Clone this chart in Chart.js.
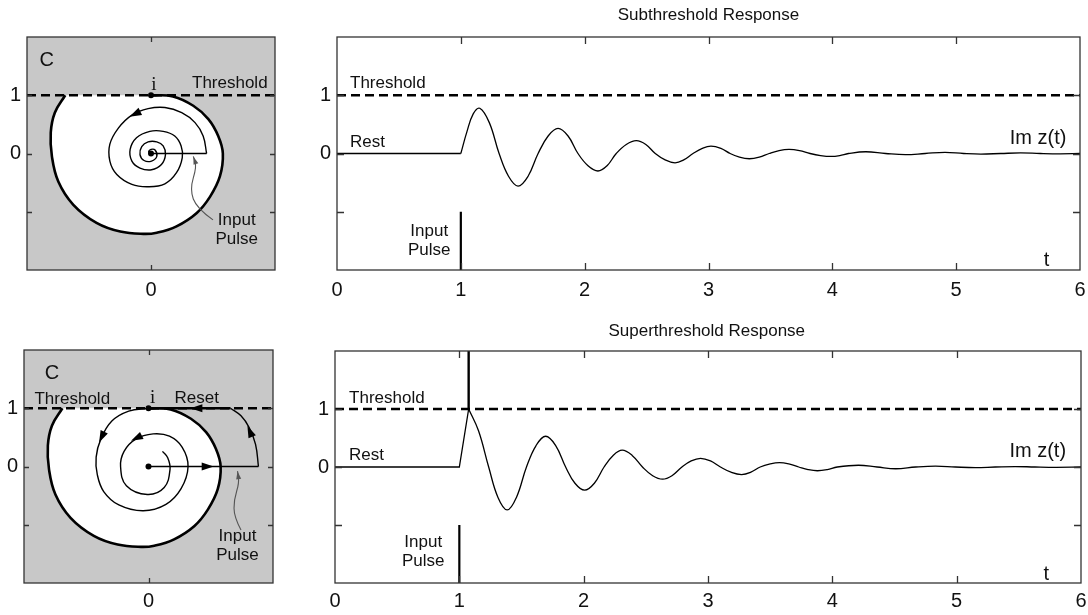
<!DOCTYPE html>
<html>
<head>
<meta charset="utf-8">
<script src="https://cdn.jsdelivr.net/npm/chart.js@4.4.0/dist/chart.umd.min.js"></script>
<style>
  html, body { margin: 0; padding: 0; background: #fff; overflow: hidden; }
  canvas { position: absolute; }
</style>
</head>
<body>
<canvas id="phaseSub" width="290" height="300" style="left:0;top:0;width:290px;height:300px"></canvas>
<canvas id="respSub" width="798" height="300" style="left:290px;top:0;width:798px;height:300px"></canvas>
<canvas id="phaseSup" width="290" height="315" style="left:0;top:300px;width:290px;height:315px"></canvas>
<canvas id="respSup" width="798" height="315" style="left:290px;top:300px;width:798px;height:315px"></canvas>
<script>
Chart.defaults.font.family = '"Liberation Sans", Arial, Helvetica, sans-serif';
Chart.defaults.color = '#111';

// ---- values ----
const phaseRange = [-2.14, 2.14];
const levelRange = [-2, 2];
const timeRange = [0, 6];
const phaseTicks = [0];
const phaseTickLabels = ['0'];
const levelTicks = [-1, 0, 1];
const levelTickLabels = ['', '0', '1'];
const timeTicks = [0, 1, 2, 3, 4, 5, 6];
const timeTickLabels = ['0', '1', '2', '3', '4', '5', '6'];
const threshold = 1;
const pulseTime = 1;
const pulseTop = -1;
const spikeTime = 1.075;

// heavy boundary curve (both phase panels)
const sepX = [0, 0.38, 0.73, 0.99, 1.16, 1.24, 1.19, 1.02, 0.79, 0.44, 0.10, -0.13, -0.53, -0.94, -1.34, -1.60, -1.71, -1.73, -1.66, -1.48];
const sepY = [1, 0.98, 0.82, 0.59, 0.30, 0, -0.39, -0.74, -1.02, -1.25, -1.36, -1.38, -1.34, -1.19, -0.88, -0.48, -0.05, 0.36, 0.70, 1];

// subthreshold trajectory
const subKickX = [0, 0.96];
const subSpiralX = [0.96, 0.90, 0.76, 0.53, 0.24, -0.05, -0.33, -0.56, -0.71, -0.71, -0.59, -0.33, -0.05, 0.24, 0.44, 0.54, 0.52, 0.41, 0.21, -0.02, -0.25, -0.36, -0.33, -0.19, 0.01, 0.18, 0.25, 0.21, 0.10, -0.05, -0.16, -0.19, -0.12, 0.01, 0.10, 0.07, 0, -0.04, 0];
const subSpiralY = [0, 0.30, 0.53, 0.70, 0.79, 0.77, 0.66, 0.44, 0.16, -0.13, -0.36, -0.53, -0.57, -0.52, -0.33, -0.07, 0.13, 0.30, 0.38, 0.38, 0.27, 0.07, -0.13, -0.25, -0.28, -0.19, -0.02, 0.13, 0.20, 0.20, 0.12, -0.02, -0.12, -0.13, -0.05, 0.06, 0.07, 0.03, 0];

// superthreshold trajectory
const supKickX = [0, 1.89];
const resetArcX = [1.89, 1.84, 1.73, 1.59, 1.41];
const resetArcY = [0, 0.38, 0.67, 0.87, 1];
const resetX = [1.41, 0];
const supSpiralX = [0, -0.34, -0.63, -0.82, -0.90, -0.88, -0.77, -0.51, -0.09, 0.30, 0.56, 0.68, 0.58, 0.36, 0.08, -0.22, -0.42, -0.48, -0.38, -0.02, 0.27, 0.37, 0.33, 0.24];
const supSpiralY = [1, 0.95, 0.78, 0.47, 0.16, -0.14, -0.43, -0.66, -0.76, -0.65, -0.38, 0, 0.33, 0.52, 0.56, 0.47, 0.26, 0, -0.33, -0.48, -0.36, -0.05, 0.15, 0.26];

// Im z(t) after the pulse
const subT = [1.0, 1.05, 1.10, 1.153, 1.23, 1.309, 1.385, 1.462, 1.543, 1.624, 1.705, 1.785, 1.866, 1.946, 2.027, 2.107, 2.181, 2.255, 2.336, 2.417, 2.494, 2.57, 2.65, 2.73, 2.80, 2.875, 2.95, 3.02, 3.10, 3.175, 3.25, 3.33, 3.41, 3.49, 3.57, 3.65, 3.735, 3.82, 3.905, 3.99, 4.06, 4.13, 4.27, 4.43, 4.59, 4.75, 4.91, 5.06, 5.2, 5.36, 5.52, 5.68, 5.84, 6.0];
const subY = [0, 0.38, 0.68, 0.776, 0.53, 0, -0.39, -0.56, -0.39, 0, 0.30, 0.43, 0.30, 0, -0.21, -0.30, -0.21, 0, 0.155, 0.22, 0.155, 0, -0.11, -0.16, -0.11, 0, 0.088, 0.126, 0.088, 0, -0.063, -0.09, -0.063, 0, 0.05, 0.07, 0.05, 0, -0.035, -0.05, -0.035, 0, 0.03, 0, -0.02, 0, 0.02, 0, -0.01, 0, 0.01, 0, -0.005, 0];
const supT = [1.075, 1.155, 1.236, 1.31, 1.385, 1.46, 1.54, 1.617, 1.694, 1.775, 1.855, 1.93, 2.008, 2.086, 2.164, 2.237, 2.31, 2.39, 2.473, 2.555, 2.635, 2.71, 2.79, 2.865, 2.94, 3.02, 3.1, 3.185, 3.27, 3.345, 3.42, 3.5, 3.575, 3.65, 3.73, 3.805, 3.88, 3.96, 4.04, 4.21, 4.36, 4.51, 4.67, 4.83, 4.99, 5.15, 5.31, 5.47, 5.63, 5.8, 6.0];
const supY = [1.0, 0.62, 0, -0.52, -0.74, -0.52, 0, 0.37, 0.53, 0.37, 0, -0.28, -0.40, -0.28, 0, 0.20, 0.29, 0.20, 0, -0.15, -0.21, -0.15, 0, 0.105, 0.15, 0.105, 0, -0.09, -0.13, -0.09, 0, 0.053, 0.075, 0.053, 0, -0.045, -0.065, -0.045, 0, 0.03, 0, -0.03, 0, 0.015, 0, -0.01, 0, 0.008, 0, -0.005, 0];

// ---- helpers ----
const pts = (xs, ys) => xs.map((x, i) => ({ x, y: ys[i] }));
const flat = (xs, y) => xs.map(x => ({ x, y }));
const line = (data, o) => Object.assign({ data, showLine: true, pointRadius: 0, borderColor: '#000', borderWidth: 1.3, tension: 0, fill: false }, o);
const dashed = (xr) => line(flat(xr, threshold), { borderWidth: 2.6, borderDash: [9, 5] });

function head(ctx, from, to, len, wid, color) {
  const a = Math.atan2(to[1] - from[1], to[0] - from[0]);
  ctx.save();
  ctx.translate(to[0], to[1]);
  ctx.rotate(a);
  ctx.beginPath();
  ctx.moveTo(0, 0);
  ctx.lineTo(-len, wid / 2);
  ctx.lineTo(-len, -wid / 2);
  ctx.closePath();
  ctx.fillStyle = color;
  ctx.fill();
  ctx.restore();
}

const figureMarks = {
  id: 'figureMarks',
  beforeDraw(chart, args, o) {
    if (!o.panel) return;
    const { ctx, chartArea: a } = chart;
    ctx.save();
    ctx.fillStyle = o.panel;
    ctx.fillRect(a.left, a.top, a.width, a.height);
    ctx.restore();
  },
  afterDatasetsDraw(chart, args, o) {
    const { ctx, chartArea: a } = chart, sx = chart.scales.x, sy = chart.scales.y;
    const P = p => [sx.getPixelForValue(p[0]), sy.getPixelForValue(p[1])];
    ctx.save();
    (o.squiggles || []).forEach(s => {
      const q = s.map(P);
      ctx.strokeStyle = '#555';
      ctx.lineWidth = 1.1;
      ctx.beginPath();
      ctx.moveTo(q[0][0], q[0][1]);
      for (let i = 1; i < q.length - 1; i++) {
        ctx.quadraticCurveTo(q[i][0], q[i][1], (q[i][0] + q[i + 1][0]) / 2, (q[i][1] + q[i + 1][1]) / 2);
      }
      ctx.lineTo(q[q.length - 1][0], q[q.length - 1][1]);
      ctx.stroke();
      head(ctx, q[q.length - 2], q[q.length - 1], 8, 5, '#555');
    });
    (o.arrows || []).forEach(ar => head(ctx, P(ar[0]), P(ar[1]), 12, 8, '#000'));
    (o.dots || []).forEach(p => {
      const [x, y] = P(p);
      ctx.beginPath();
      ctx.arc(x, y, 3, 0, 2 * Math.PI);
      ctx.fillStyle = '#000';
      ctx.fill();
    });
    ctx.fillStyle = '#111';
    ctx.textBaseline = 'middle';
    (o.texts || []).forEach(t => {
      const [x, y] = P(t.at);
      ctx.font = t.font || '17px "Liberation Sans", Arial, sans-serif';
      ctx.textAlign = t.align || 'center';
      ctx.fillText(t.text, x, y);
    });
    if (o.title) {
      ctx.font = '17px "Liberation Sans", Arial, sans-serif';
      ctx.textAlign = 'center';
      ctx.fillText(o.title.text, sx.getPixelForValue(o.title.x), a.top - o.title.above);
    }
    ctx.restore();
  },
  afterDraw(chart, args, o) {
    const { ctx, chartArea: a } = chart, sx = chart.scales.x, sy = chart.scales.y;
    const L = o.tickLen || 6;
    ctx.save();
    ctx.strokeStyle = '#333';
    ctx.lineWidth = 1.3;
    ctx.strokeRect(a.left, a.top, a.width, a.height);
    ctx.beginPath();
    sx.ticks.forEach(t => {
      const x = Math.round(sx.getPixelForValue(t.value)) + 0.5;
      if (x <= a.left + 2 || x >= a.right - 2) return;
      ctx.moveTo(x, a.top); ctx.lineTo(x, a.top + L);
      ctx.moveTo(x, a.bottom); ctx.lineTo(x, a.bottom - L);
    });
    sy.ticks.forEach(t => {
      const y = Math.round(sy.getPixelForValue(t.value)) + 0.5;
      if (y <= a.top + 2 || y >= a.bottom - 2) return;
      ctx.moveTo(a.left, y); ctx.lineTo(a.left + L, y);
      ctx.moveTo(a.right, y); ctx.lineTo(a.right - L, y);
    });
    ctx.stroke();
    ctx.restore();
  }
};

function axes(xr, yr, xt, xl, yt, yl, yWidth, xHeight, xPad) {
  return {
    x: {
      type: 'linear', min: xr[0], max: xr[1],
      afterBuildTicks: s => { s.ticks = xt.map(v => ({ value: v })); },
      afterFit: s => { s.height = xHeight; s.paddingLeft = 0; s.paddingRight = 0; },
      grid: { display: false, drawTicks: false }, border: { display: false },
      ticks: { font: { size: 20 }, color: '#111', padding: xPad, maxRotation: 0, autoSkip: false,
        callback: v => xl[xt.indexOf(v)] }
    },
    y: {
      type: 'linear', min: yr[0], max: yr[1],
      afterBuildTicks: s => { s.ticks = yt.map(v => ({ value: v })); },
      afterFit: s => { s.width = yWidth; s.paddingTop = 0; s.paddingBottom = 0; },
      grid: { display: false, drawTicks: false }, border: { display: false },
      ticks: { font: { size: 20 }, color: '#111', padding: 6, autoSkip: false,
        callback: v => yl[yt.indexOf(v)] }
    }
  };
}

function makeChart(id, datasets, scales, padding, marks) {
  return new Chart(document.getElementById(id), {
    type: 'scatter',
    data: { datasets },
    options: {
      responsive: false, animation: false, devicePixelRatio: 1, events: [],
      layout: { padding },
      scales,
      plugins: { legend: { display: false }, tooltip: { enabled: false }, figureMarks: marks }
    },
    plugins: [figureMarks]
  });
}

const SERIF = '19px "Liberation Serif", "DejaVu Serif", serif';
const BIG = '20px "Liberation Sans", Arial, sans-serif';

// top left: phase plane, subthreshold
makeChart('phaseSub', [
  dashed(phaseRange),
  line(flat(subKickX, 0), { borderWidth: 1.4 }),
  line(pts(subSpiralX, subSpiralY), { borderWidth: 1.4, tension: 0.4 }),
  line(pts(sepX, sepY), { borderWidth: 2.6, tension: 0.4, fill: 'shape', backgroundColor: '#ffffff' })
], axes(phaseRange, levelRange, phaseTicks, phaseTickLabels, levelTicks, levelTickLabels, 27, 30, 8),
{ top: 37, right: 15, left: 0, bottom: 0 },
{
  panel: '#c8c8c8', tickLen: 5,
  dots: [[0, 0], [0, threshold]],
  arrows: [[[-0.15, 0.74], [-0.37, 0.63]]],
  squiggles: [[[1.07, -1.14], [0.79, -0.94], [0.67, -0.62], [0.79, -0.22], [0.73, -0.05]]],
  texts: [
    { text: 'C', at: [-1.8, 1.6], font: BIG },
    { text: 'i', at: [0.05, 1.17], font: SERIF },
    { text: 'Threshold', at: [1.36, 1.2] },
    { text: 'Input', at: [1.48, -1.14] },
    { text: 'Pulse', at: [1.48, -1.47] }
  ]
});

// top right: subthreshold response
makeChart('respSub', [
  dashed(timeRange),
  line([{ x: 0, y: 0 }, { x: subT[0], y: subY[0] }]),
  line(pts(subT, subY), { tension: 0.4 }),
  line(pts([pulseTime, pulseTime], [levelRange[0], pulseTop]), { borderWidth: 2.2 })
], axes(timeRange, levelRange, timeTicks, timeTickLabels, levelTicks, levelTickLabels, 47, 30, 8),
{ top: 37, right: 8, left: 0, bottom: 0 },
{
  tickLen: 7,
  title: { text: 'Subthreshold Response', x: 3.0, above: 22 },
  texts: [
    { text: 'Threshold', at: [0.105, 1.2], align: 'left' },
    { text: 'Rest', at: [0.105, 0.2], align: 'left' },
    { text: 'Input', at: [0.745, -1.34] },
    { text: 'Pulse', at: [0.745, -1.66] },
    { text: 'Im z(t)', at: [5.89, 0.26], align: 'right', font: BIG },
    { text: 't', at: [5.73, -1.83], font: BIG }
  ]
});

// bottom left: phase plane, superthreshold
makeChart('phaseSup', [
  dashed(phaseRange),
  line(flat(resetX, threshold), { borderWidth: 2.4 }),
  line(flat(supKickX, 0), { borderWidth: 1.4 }),
  line(pts(resetArcX, resetArcY), { borderWidth: 1.4, tension: 0.4 }),
  line(pts(supSpiralX, supSpiralY), { borderWidth: 1.4, tension: 0.4 }),
  line(pts(sepX, sepY), { borderWidth: 2.6, tension: 0.4, fill: 'shape', backgroundColor: '#ffffff' })
], axes(phaseRange, levelRange, phaseTicks, phaseTickLabels, levelTicks, levelTickLabels, 24, 32, 6),
{ top: 50, right: 17, left: 0, bottom: 0 },
{
  panel: '#c8c8c8', tickLen: 5,
  dots: [[0, 0], [0, threshold]],
  arrows: [
    [[0.9, 0], [1.12, 0]],
    [[1.8, 0.47], [1.7, 0.7]],
    [[0.95, 1], [0.72, 1]],
    [[-0.74, 0.64], [-0.85, 0.41]],
    [[-0.08, 0.55], [-0.3, 0.44]]
  ],
  squiggles: [[[1.59, -1.09], [1.47, -0.86], [1.47, -0.57], [1.56, -0.28], [1.53, -0.08]]],
  texts: [
    { text: 'C', at: [-1.66, 1.6], font: BIG },
    { text: 'i', at: [0.07, 1.17], font: SERIF },
    { text: 'Threshold', at: [-1.31, 1.15] },
    { text: 'Reset', at: [0.83, 1.17] },
    { text: 'Input', at: [1.53, -1.2] },
    { text: 'Pulse', at: [1.53, -1.52] }
  ]
});

// bottom right: superthreshold response
makeChart('respSup', [
  dashed(timeRange),
  line(pts([0, pulseTime, spikeTime], [0, 0, threshold])),
  line(pts(supT, supY), { tension: 0.4 }),
  line(pts([spikeTime, spikeTime], [threshold, levelRange[1]]), { borderWidth: 2.4 }),
  line(pts([pulseTime, pulseTime], [levelRange[0], pulseTop]), { borderWidth: 2.2 })
], axes(timeRange, levelRange, timeTicks, timeTickLabels, levelTicks, levelTickLabels, 45, 32, 6),
{ top: 51, right: 7, left: 0, bottom: 0 },
{
  tickLen: 7,
  title: { text: 'Superthreshold Response', x: 2.99, above: 20 },
  texts: [
    { text: 'Threshold', at: [0.113, 1.18], align: 'left' },
    { text: 'Rest', at: [0.113, 0.2], align: 'left' },
    { text: 'Input', at: [0.71, -1.3] },
    { text: 'Pulse', at: [0.71, -1.62] },
    { text: 'Im z(t)', at: [5.88, 0.26], align: 'right', font: BIG },
    { text: 't', at: [5.72, -1.85], font: BIG }
  ]
});
</script>
</body>
</html>
